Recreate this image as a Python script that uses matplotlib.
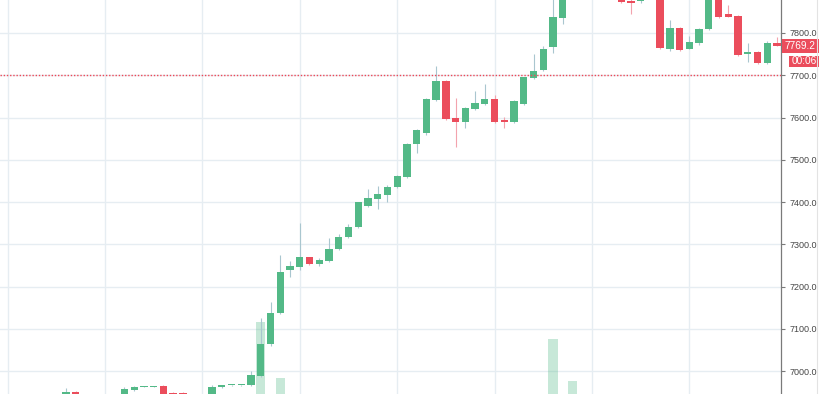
import numpy as np
import matplotlib.pyplot as plt
import matplotlib.transforms as mtransforms
from matplotlib.patches import Rectangle
from matplotlib.lines import Line2D

plt.rcParams['font.family'] = ['Liberation Sans', 'DejaVu Sans']

# OHLC per candle (values outside the view are estimates)
opens = [6925, 6930, 6926, 6932, 6928, 6934, 6936, 6951, 6934, 6930,
         6927, 6932, 6936, 6955, 6962, 6963, 6965, 6949, 6949, 6932,
         6930, 6935, 6962, 6966, 6966, 6966, 6988, 7064, 7137, 7238,
         7245, 7269, 7254, 7260, 7289, 7317, 7341, 7390, 7408, 7417,
         7436, 7460, 7537, 7564, 7641, 7686, 7600, 7589, 7620, 7631,
         7643, 7594, 7590, 7631, 7694, 7712, 7768, 7836, 7895, 7930,
         7945, 7935, 7915, 7905, 7876, 7875, 7905, 7895, 7761, 7813,
         7763, 7777, 7809, 7890, 7845, 7840, 7750, 7756, 7728, 7777]
highs = [6933, 6938, 6935, 6940, 6936, 6941, 6959, 6953, 6940, 6937,
         6935, 6940, 6963, 6965, 6965, 6965, 6966, 6950, 6950, 6940,
         6938, 6967, 6968, 6968, 6968, 7000, 7125, 7163, 7275, 7261,
         7351, 7271, 7267, 7315, 7324, 7348, 7401, 7431, 7439, 7441,
         7465, 7540, 7573, 7645, 7722, 7689, 7647, 7624, 7663, 7679,
         7654, 7602, 7641, 7697, 7750, 7769, 7890, 7910, 7940, 7960,
         7970, 7955, 7930, 7915, 7890, 7910, 7925, 7900, 7831, 7815,
         7793, 7812, 7900, 7895, 7866, 7843, 7777, 7758, 7781, 7791]
lows = [6915, 6922, 6920, 6925, 6921, 6928, 6933, 6930, 6925, 6922,
        6920, 6926, 6932, 6952, 6961, 6962, 6940, 6930, 6928, 6924,
        6925, 6932, 6960, 6965, 6965, 6964, 6985, 7060, 7135, 7223,
        7239, 7252, 7248, 7258, 7287, 7315, 7339, 7388, 7383, 7401,
        7433, 7458, 7517, 7559, 7639, 7594, 7531, 7574, 7618, 7629,
        7588, 7576, 7588, 7629, 7692, 7710, 7753, 7821, 7885, 7910,
        7925, 7900, 7890, 7870, 7844, 7872, 7885, 7762, 7758, 7758,
        7761, 7772, 7806, 7836, 7838, 7746, 7731, 7726, 7726, 7769.2]
closes = [6930, 6926, 6932, 6928, 6934, 6936, 6951, 6934, 6930, 6927,
          6932, 6936, 6957, 6963, 6964, 6964, 6940, 6935, 6932, 6930,
          6935, 6963, 6967, 6967, 6967, 6990, 7064, 7138, 7235, 7248,
          7269, 7253, 7262, 7289, 7318, 7341, 7399, 7409, 7419, 7436,
          7462, 7537, 7570, 7643, 7686, 7596, 7589, 7622, 7634, 7643,
          7590, 7590, 7639, 7695, 7711, 7761, 7837, 7895, 7930, 7945,
          7935, 7915, 7905, 7873, 7872, 7905, 7895, 7764, 7812, 7760,
          7779, 7809, 7890, 7839, 7839, 7748, 7756, 7728, 7777, 7769.2]
volumes = [150, 120, 140, 110, 130, 160, 220, 180, 100, 90,
           120, 110, 200, 150, 90, 80, 170, 130, 120, 100,
           110, 190, 120, 80, 70, 280, 1083, 340, 520, 250,
           300, 180, 150, 230, 260, 240, 300, 210, 220, 200,
           230, 260, 240, 300, 320, 330, 300, 220, 200, 210,
           260, 180, 240, 290, 250, 300, 907, 350, 487, 300,
           280, 260, 240, 270, 200, 220, 250, 340, 300, 280,
           200, 220, 310, 260, 180, 300, 200, 220, 240, 120]
last_price = 7769.2
countdown = '00:06'
alert_level = 7700
price_ticks = np.arange(7000, 7801, 100)

UP, DOWN = '#53b987', '#eb4d5c'

W, H = 820, 394
fig = plt.figure(figsize=(W / 100, H / 100), dpi=100)
right = 781.3 / W
XLIM = (-0.776, 79.44)
YLIM = (6945.6, 7878.1)

# three stacked layers: grid, volume, candles
grid_ax = fig.add_axes([0, 0, right, 1])
vol_ax = fig.add_axes([0, 0, right, 1], sharex=grid_ax)
ax = fig.add_axes([0, 0, right, 1], sharex=grid_ax)
vol_ax.patch.set_visible(False)
ax.patch.set_visible(False)

grid_ax.set_xlim(*XLIM)
grid_ax.set_ylim(*YLIM)
grid_ax.set_xticks(np.arange(0, 80, 10))
grid_ax.set_yticks(price_ticks)
grid_ax.grid(True, color='#e6edf2', lw=1.0)
grid_ax.tick_params(left=False, bottom=False, labelleft=False, labelbottom=False)
for s in grid_ax.spines.values():
    s.set_visible(False)

o = np.array(opens, float)
h = np.array(highs, float)
l = np.array(lows, float)
c = np.array(closes, float)
idx = np.arange(len(o))
up = c >= o

vol_ax.bar(idx, volumes, width=0.93,
           color=np.where(up, UP, DOWN), alpha=0.32, linewidth=0)
vol_ax.set_ylim(360, 4300)
vol_ax.axis('off')

# candles
wick_cols = np.where(up, '#a9c6cf', '#f3a3ad')
ax.vlines(idx, l, h, colors=wick_cols, lw=0.8, zorder=3)
body_lo = np.minimum(o, c)
body_h = np.maximum(np.abs(c - o), 2.4)
ax.bar(idx, body_h, bottom=body_lo, width=0.75,
       color=np.where(up, UP, DOWN), linewidth=0, zorder=4)

ax.axhline(alert_level, color='#ee4857', lw=1.0, ls=(0, (1, 1.3)), zorder=5)

ax.set_xlim(*XLIM)
ax.set_ylim(*YLIM)
ax.set_yticks(price_ticks)
ax.yaxis.set_major_formatter(plt.FormatStrFormatter('%.1f'))
for s in ['top', 'left', 'bottom']:
    ax.spines[s].set_visible(False)
ax.spines['right'].set_color('#7a7a7a')
ax.spines['right'].set_linewidth(0.9)
ax.yaxis.tick_right()
ax.tick_params(axis='y', length=3, width=0.8, color='#7a7a7a', pad=3,
               labelsize=6.5, labelcolor='#474747')
ax.tick_params(axis='x', bottom=False, labelbottom=False)

# faint border of the price scale
fig.add_artist(Line2D([817 / W, 817 / W], [0, 1], color='#e3e3e3', lw=0.8))

# last price + countdown labels on the scale
trans = mtransforms.blended_transform_factory(fig.transFigure, ax.transData)
fig.add_artist(Rectangle((781.7 / W, last_price - 15.8), (W - 781.7) / W, 31.5,
                         transform=trans, color=DOWN, lw=0, clip_on=False))
fig.text(799.5 / W, last_price, f'{last_price:.1f}', transform=trans,
         ha='center', va='center', color='white', fontsize=7.3)
cd_price = 7733.3
fig.add_artist(Rectangle((789 / W, cd_price - 13.0), (W - 789) / W, 26.0,
                         transform=trans, color=DOWN, lw=0, clip_on=False))
fig.text(804 / W, cd_price, countdown, transform=trans,
         ha='center', va='center', color='white', fontsize=7.3)

fig.savefig('out.png', dpi=100)
